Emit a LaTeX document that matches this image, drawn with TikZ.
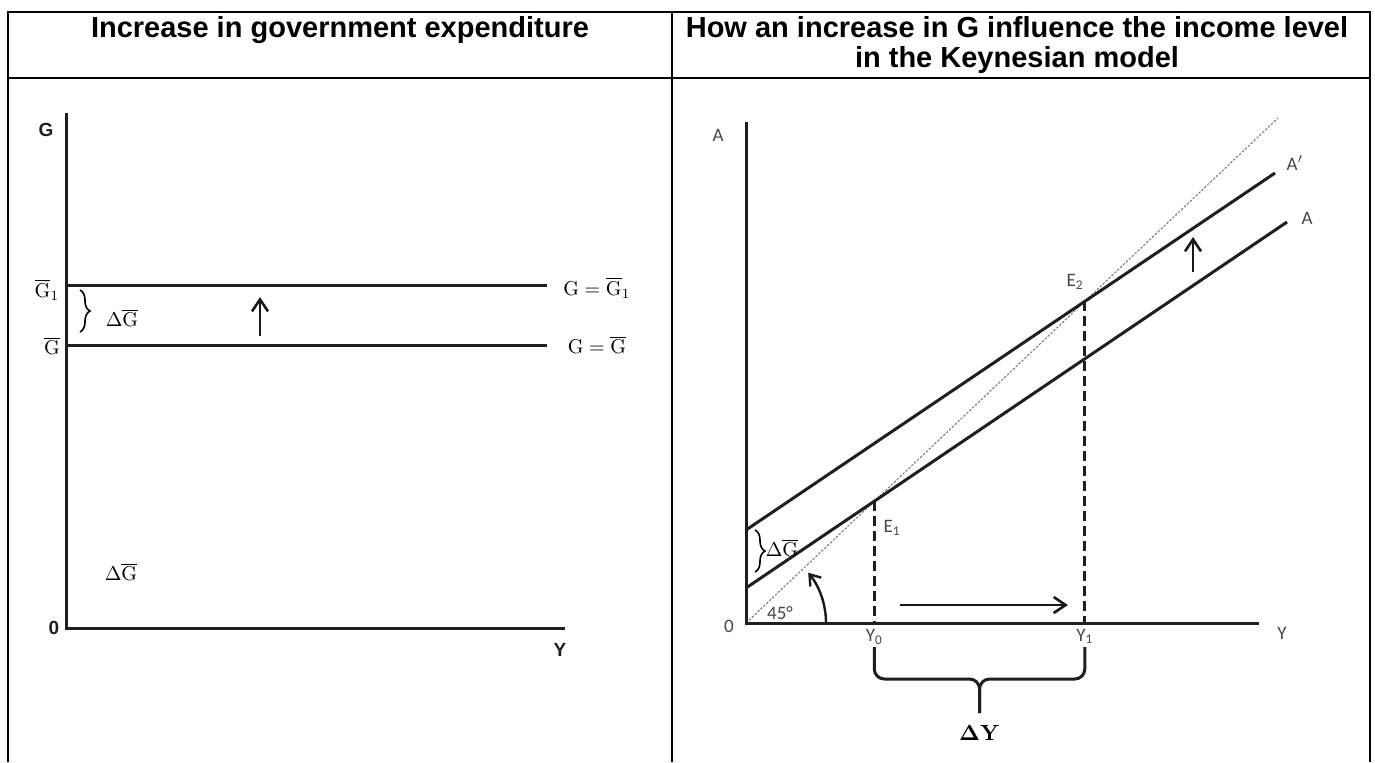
\documentclass[tikz,border=0pt]{standalone}
\usepackage{fontspec}
\newfontfamily\hdrfont{Liberation Sans}
\newfontfamily\calfont{Carlito}
\usetikzlibrary{arrows.meta,decorations.pathreplacing,calc}
\tikzset{
  tbl/.style={line width=1pt, line join=miter},
  axisline/.style={line width=1.5pt, black!88},
  curveline/.style={line width=1.5pt, black!88},
  vdash/.style={line width=1.6pt, black!88, dash pattern=on 5pt off 2.5pt},
  diag/.style={line width=0.5pt, black!55, dash pattern=on 1.2pt off 0.8pt},
  arr/.style={line width=1.3pt, black!90, -{Straight Barb[length=6pt,width=8pt]}},
  hdrtext/.style={font=\hdrfont\bfseries\fontsize{14.5}{17}\selectfont, anchor=base, inner sep=0pt},
  sanslab/.style={font=\hdrfont\bfseries\fontsize{9.5}{11}\selectfont, text=black!88, inner sep=0pt},
  mathlab/.style={font=\fontsize{10}{12}\selectfont, inner sep=0pt},
  callab/.style={font=\calfont\fontsize{9.5}{11}\selectfont, text=black!72, inner sep=0pt},
  bracelab/.style={line width=0.8pt, decorate, decoration={brace, amplitude=5pt}},
}
\begin{document}
\begin{tikzpicture}[x=0.5pt, y=-0.5pt]
\useasboundingbox (0,0) rectangle (1375,762);
% ---------- table ----------
\coordinate (tl) at (8,12); \coordinate (tr) at (1370,12);
\coordinate (bl) at (8,762); \coordinate (br) at (1370,762);
\coordinate (ml) at (8,78); \coordinate (mr) at (1370,78);
\coordinate (mt) at (672,12); \coordinate (mb) at (672,762);
\draw[tbl] (bl) -- (tl) -- (tr) -- (br);
\draw[tbl] (ml) -- (mr);
\draw[tbl] (mt) -- (mb);
\node[hdrtext] (h1) at (340,37) {Increase in government expenditure};
\node[hdrtext] (h2) at (1017,37) {How an increase in G influence the income level};
\node[hdrtext] (h3) at (1017,67) {in the Keynesian model};
% ---------- left graph ----------
\coordinate (LT) at (66,113); \coordinate (LO) at (66,628); \coordinate (LX) at (565,628);
\draw[axisline] (LT) -- (LO) -- (LX);
\coordinate (G1a) at (66,285); \coordinate (G1b) at (547,285);
\coordinate (G0a) at (66,345); \coordinate (G0b) at (547,345);
\draw[curveline] (G1a) -- (G1b);
\draw[curveline] (G0a) -- (G0b);
\node[sanslab] (lG) at (46,130) {G};
\node[sanslab] (l0) at (54,628) {0};
\node[sanslab] (lY) at (560,650) {Y};
\node[mathlab] (lg1r) at (597,288) {$\mathrm{G}=\overline{\mathrm{G}}_1$};
\node[mathlab] (lg0r) at (597,345) {$\mathrm{G}=\overline{\mathrm{G}}$};
\node[mathlab] (lg1l) at (47,290) {$\overline{\mathrm{G}}_1$};
\node[mathlab] (lg0l) at (52,346) {$\overline{\mathrm{G}}$};
\coordinate (lbr1) at (80,290); \coordinate (lbr2) at (80,332);
\draw[bracelab] (lbr1) -- (lbr2);
\node[mathlab] (ldg) at (122,318) {$\Delta\overline{\mathrm{G}}$};
\coordinate (lup1) at (260,336); \coordinate (lup2) at (260,297);
\draw[arr] (lup1) -- (lup2);
\node[mathlab] (ldg2) at (121,572) {$\Delta\overline{\mathrm{G}}$};
% ---------- right graph ----------
\coordinate (O) at (746,623);
\coordinate (RT) at (746,122);
\coordinate (RX) at (1259,623);
\coordinate (T45) at (1278,118);
\coordinate (A0) at (746,588); \coordinate (A1) at (1287,222);
\coordinate (B0) at (746,530); \coordinate (B1) at (1275,173);
\coordinate (E1) at (intersection of O--T45 and A0--A1);
\coordinate (E2) at (intersection of O--T45 and B0--B1);
\coordinate (Y0) at (E1 |- O);
\coordinate (Y1) at (E2 |- O);
\draw[diag] (O) -- (T45);
\draw[axisline] (RT) -- (O) -- (RX);
\draw[curveline] (A0) -- (A1);
\draw[curveline] (B0) -- (B1);
\draw[vdash] (E1) -- (Y0);
\draw[vdash] (E2) -- (Y1);
\node[callab] (rA) at (718,135) {A};
\node[callab] (rAp) at (1295,163) {A$'$};
\node[callab] (rAr) at (1307,218) {A};
\node[callab] (r0) at (729,626) {0};
\node[callab] (rY) at (1282,633) {Y};
\node[callab] (rE1) at (892,528) {E\textsubscript{1}};
\node[callab] (rE2) at (1075,282) {E\textsubscript{2}};
\node[callab, below=3pt] (rY0) at (Y0) {Y\textsubscript{0}};
\node[callab, below=3pt] (rY1) at (Y1) {Y\textsubscript{1}};
\node[callab] (r45) at (780,613) {45°};
% arrows
\coordinate (rr1) at (900,605); \coordinate (rr2) at (1068,605);
\draw[arr] (rr1) -- (rr2);
\coordinate (ru1) at (1193,272); \coordinate (ru2) at (1193,237);
\draw[arr] (ru1) -- (ru2);
\coordinate (arcs) at (826,623);
\draw[line width=1.2pt, black!90, -{Straight Barb[length=5pt,width=7pt]}] (arcs) arc[start angle=0, end angle=-39, radius=80];
% left brace
\coordinate (rbr1) at (755,530); \coordinate (rbr2) at (755,572);
\draw[bracelab] (rbr1) -- (rbr2);
\node[mathlab] (rdg) at (782,548) {$\Delta\overline{\mathrm{G}}$};
% bottom brace
\coordinate (bb1) at ([yshift=-12pt]Y0); \coordinate (bb2) at ([yshift=-12pt]Y1);
\coordinate (bbm) at ($(bb1)!0.5!(bb2)$);
\draw[line width=1.5pt, black!88, rounded corners=5pt]
  (bb1) -- ++(0,32) -| ([yshift=-33pt]bbm);
\draw[line width=1.5pt, black!88, rounded corners=5pt]
  (bb2) -- ++(0,32) -| ([yshift=-33pt]bbm);
\node[mathlab, font=\fontsize{11}{13}\selectfont\boldmath] (rdy) at ([yshift=-43pt]bbm) {$\Delta\mathbf{Y}$};
\end{tikzpicture}
\end{document}
